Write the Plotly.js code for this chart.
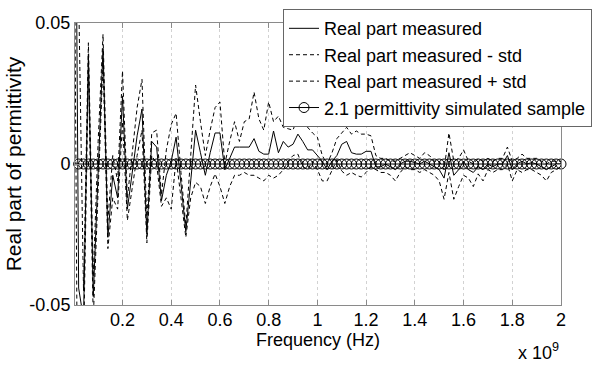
<!DOCTYPE html>
<html>
<head>
<meta charset="utf-8">
<script src="https://cdn.plot.ly/plotly-3.0.1.min.js"></script>
<style>html,body{margin:0;padding:0;background:#fff;}#chart{width:592px;height:365px;}</style>
</head>
<body>
<div id="chart"></div>
<script>
// Frequency in GHz (axis shows x 10^9 Hz)
var freqGHz = [0.00,0.02,0.04,0.06,0.08,0.10,0.12,0.14,0.16,0.18,
0.20,0.22,0.24,0.26,0.28,0.30,0.32,0.34,0.36,0.38,
0.40,0.42,0.44,0.46,0.48,0.50,0.52,0.54,0.56,0.58,
0.60,0.62,0.64,0.66,0.68,0.70,0.72,0.74,0.76,0.78,
0.80,0.82,0.84,0.86,0.88,0.90,0.92,0.94,0.96,0.98,
1.00,1.02,1.04,1.06,1.08,1.10,1.12,1.14,1.16,1.18,
1.20,1.22,1.24,1.26,1.28,1.30,1.32,1.34,1.36,1.38,
1.40,1.42,1.44,1.46,1.48,1.50,1.52,1.54,1.56,1.58,
1.60,1.62,1.64,1.66,1.68,1.70,1.72,1.74,1.76,1.78,
1.80,1.82,1.84,1.86,1.88,1.90,1.92,1.94,1.96,1.98,2.00];

var realMeasured = [0.2,-0.044,-0.055,0.039,-0.047,-0.002,0.041,-0.026,-0.004,-0.012,
0.024,-0.016,-0.002,0.010,0.0195,-0.025,0.008,0.006,-0.013,-0.004,
0.001,0.0095,-0.007,-0.024,-0.006,0.012,0.004,-0.004,0.004,0.011,
0.011,-0.002,0.002,0.006,0.006,0.006,0.006,0.009,0.0045,0.0035,
0.0035,0.0117,0.004,0.008,0.006,0.007,0.0106,0.008,0.005,0.005,
0.003,0.001,-0.002,0.001,0.003,0.007,0.008,0.004,0.0035,0.0035,
0.0045,0.0045,-0.001,-0.001,0.0,-0.001,-0.002,0.0,0.001,0.001,
0.0005,0.0,0.001,0.0,-0.001,-0.002,-0.005,0.004,-0.004,-0.002,
0.001,-0.002,-0.003,-0.001,-0.002,0.0,-0.001,0.0,0.0,0.003,
-0.002,0.0,0.001,0.0,0.0005,0.0,-0.001,-0.002,-0.001,0.0,0.0];

var realMinusStd = [0.12,-0.15,-0.065,0.033,-0.055,-0.012,0.036,-0.030,-0.012,-0.016,
0.015,-0.020,-0.008,0.003,0.012,-0.028,0.003,0.0,-0.015,-0.012,
-0.016,0.002,-0.012,-0.026,-0.012,-0.0065,-0.008,-0.014,-0.008,-0.0035,
-0.008,-0.014,-0.008,-0.004,-0.004,-0.003,-0.004,-0.004,-0.005,-0.006,
-0.004,-0.005,-0.004,-0.002,0.001,0.003,0.0035,-0.001,-0.002,0.001,
-0.002,-0.006,-0.006,-0.002,0.0015,-0.0025,-0.004,-0.003,-0.004,-0.0046,
-0.003,-0.001,-0.002,-0.003,-0.003,-0.004,-0.006,-0.003,-0.001,-0.002,
-0.002,-0.003,-0.002,-0.003,-0.004,-0.006,-0.0125,-0.003,-0.0125,-0.008,
-0.004,-0.005,-0.008,-0.0035,-0.006,-0.002,-0.003,-0.002,-0.002,0.0,
-0.006,-0.002,-0.003,-0.002,-0.002,-0.003,-0.004,-0.006,-0.003,-0.002,-0.001];

var realPlusStd = [0.3,0.06,-0.045,0.043,-0.040,0.008,0.046,-0.020,0.003,-0.006,
0.033,-0.012,0.004,0.020,0.030,-0.020,0.011,0.012,-0.011,0.005,
0.014,0.018,-0.003,-0.022,0.003,0.028,0.015,0.003,0.012,0.020,
0.022,0.000,0.008,0.015,0.008,0.015,0.016,0.0255,0.016,0.012,
0.022,0.015,0.017,0.013,0.0125,0.012,0.017,0.015,0.013,0.011,
0.0095,0.003,0.000,0.004,0.009,0.011,0.013,0.0106,0.0117,0.0106,
0.0106,0.010,0.003,0.002,0.002,0.001,0.001,0.002,0.003,0.004,
0.003,0.002,0.004,0.003,0.001,0.001,-0.002,0.011,0.001,0.002,
0.005,0.001,0.000,0.002,0.001,0.002,0.001,0.002,0.002,0.006,
0.001,0.002,0.0035,0.002,0.002,0.002,0.001,0.000,0.001,0.001,0.001];

var simulated = [0,0,0,0,0,0,0,0,0,0,0,0,0,0,0,0,0,0,0,0,
0,0,0,0,0,0,0,0,0,0,0,0,0,0,0,0,0,0,0,0,
0,0,0,0,0,0,0,0,0,0,0,0,0,0,0,0,0,0,0,0,
0,0,0,0,0,0,0,0,0,0,0,0,0,0,0,0,0,0,0,0,
0,0,0,0,0,0,0,0,0,0,0,0,0,0,0,0,0,0,0,0,0];

var seriesNames = ["Real part measured","Real part measured - std","Real part measured + std","2.1 permittivity simulated sample"];
var xTickVals = [0.2,0.4,0.6,0.8,1.0,1.2,1.4,1.6,1.8,2.0];
var xTickText = ["0.2","0.4","0.6","0.8","1","1.2","1.4","1.6","1.8","2"];
var yTickVals = [-0.05,0,0.05];
var yTickText = ["-0.05","0","0.05"];

var freqHz = freqGHz.map(function(f){return f*1e9;});
var dashStyle = "4px,3px";

var traces = [
  {x:freqHz, y:realMeasured, name:seriesNames[0], mode:"lines", legendgroup:"a",
   line:{color:"#000", width:1}},
  {x:freqHz, y:realMinusStd, name:seriesNames[1], mode:"lines", legendgroup:"b",
   line:{color:"#000", width:1, dash:dashStyle}},
  {x:freqHz, y:realPlusStd, name:seriesNames[2], mode:"lines", legendgroup:"c",
   line:{color:"#000", width:1, dash:dashStyle}},
  {x:freqHz, y:simulated, name:seriesNames[3], mode:"lines+markers", legendgroup:"d",
   cliponaxis:false,
   line:{color:"#000", width:1},
   marker:{symbol:"circle-open", size:10, color:"#000", line:{width:1, color:"#000"}}}
];

var axisCommon = {
  showline:true, linecolor:"#8a8a8a", linewidth:1, mirror:"ticks",
  ticks:"inside", ticklen:5, tickcolor:"#8a8a8a",
  showgrid:true, gridcolor:"#d2d2d2", griddash:"dot", gridwidth:1,
  zeroline:false, tickfont:{size:18, color:"#000"}, automargin:false
};

var layout = {
  width:592, height:365,
  margin:{l:75, r:31, t:23, b:60, pad:0, autoexpand:false},
  paper_bgcolor:"#fff", plot_bgcolor:"#fff",
  font:{family:"Liberation Sans, Arial, sans-serif", size:18, color:"#000"},
  showlegend:true,
  xaxis:Object.assign({}, axisCommon, {
    range:[0.005e9, 2e9], tickmode:"array",
    tickvals:xTickVals.map(function(v){return v*1e9;}), ticktext:xTickText,
    ticklabelstandoff:-2,
    title:{text:"Frequency (Hz)", font:{size:18}, standoff:0}
  }),
  yaxis:Object.assign({}, axisCommon, {
    range:[-0.05, 0.05], tickmode:"array", tickvals:yTickVals, ticktext:yTickText,
    title:{text:"Real part of permittivity", font:{size:21}, standoff:2}
  }),
  legend:{
    xref:"container", yref:"container",
    x:1.012, xanchor:"right", y:0.975, yanchor:"top",
    bgcolor:"#fff", bordercolor:"#666", borderwidth:1,
    font:{size:18, color:"#000"}, tracegroupgap:0, itemwidth:30
  },
  annotations:[{
    xref:"paper", yref:"paper", x:1.0, y:-0.165, xanchor:"right", yanchor:"middle",
    text:"x 10<sup>9</sup>", showarrow:false, font:{size:18, color:"#000"}
  }]
};

Plotly.newPlot("chart", traces, layout, {staticPlot:true, displayModeBar:false});
</script>
</body>
</html>
